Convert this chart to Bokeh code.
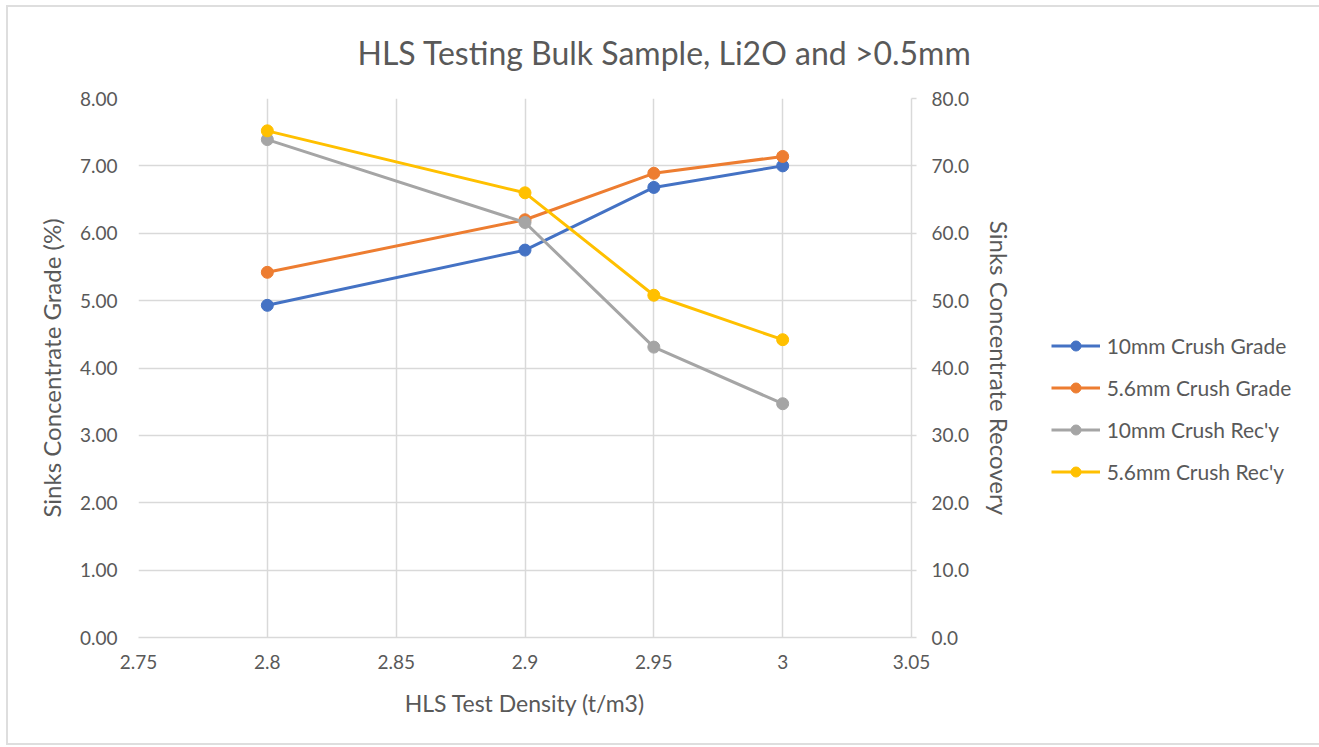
from bokeh.plotting import figure
from bokeh.models import (Range1d, LinearAxis, FixedTicker, Legend, LegendItem, Title)
from bokeh.embed import file_html
from bokeh.resources import INLINE

# ---- data ----
density = [2.8, 2.9, 2.95, 3.0]
grade_10mm = [4.93, 5.75, 6.68, 7.00]
grade_56mm = [5.42, 6.20, 6.89, 7.14]
recy_10mm = [73.9, 61.6, 43.1, 34.7]
recy_56mm = [75.2, 66.0, 50.8, 44.2]

series_names = ["10mm Crush Grade", "5.6mm Crush Grade", "10mm Crush Rec'y", "5.6mm Crush Rec'y"]
series_colors = ["#4472C4", "#ED7D31", "#A5A5A5", "#FFC000"]

x_ticks = [2.75, 2.8, 2.85, 2.9, 2.95, 3.0, 3.05]
x_tick_labels = ["2.75", "2.8", "2.85", "2.9", "2.95", "3", "3.05"]
left_ticks = [0, 1, 2, 3, 4, 5, 6, 7, 8]
left_tick_labels = ["0.00", "1.00", "2.00", "3.00", "4.00", "5.00", "6.00", "7.00", "8.00"]
right_ticks = [0, 10, 20, 30, 40, 50, 60, 70, 80]
right_tick_labels = ["0.0", "10.0", "20.0", "30.0", "40.0", "50.0", "60.0", "70.0", "80.0"]

FONT = "Lato"
TXT = "#595959"
GRID = "#D9D9D9"

p = figure(frame_width=773, frame_height=539, output_backend="svg", toolbar_location=None,
           x_range=Range1d(2.75, 3.05), y_range=Range1d(0, 8),
           min_border_left=130, min_border_right=0, min_border_top=91, min_border_bottom=106)
p.styles = {"border": "2px solid #DEDEDE", "margin-left": "6px", "margin-top": "5px"}
p.extra_y_ranges = {"rec": Range1d(0, 80)}
p.outline_line_color = None
p.background_fill_color = "white"
p.border_fill_color = "white"

t = Title(text="HLS Testing Bulk Sample, Li2O and >0.5mm", align="left",
          vertical_align="top",
          text_font=FONT, text_font_size="32px", text_font_style="normal",
          text_color=TXT, offset=219, standoff=49)
p.add_layout(t, "above")

# grids
p.xgrid.ticker = FixedTicker(ticks=x_ticks)
p.ygrid.ticker = FixedTicker(ticks=left_ticks)
p.xgrid.grid_line_color = GRID
p.ygrid.grid_line_color = GRID
p.xgrid.grid_line_width = 1.5
p.ygrid.grid_line_width = 1.5

# x axis
xa = p.xaxis[0]
xa.ticker = FixedTicker(ticks=x_ticks)
xa.major_label_overrides = {k: v for k, v in zip(x_ticks, x_tick_labels)}
xa.axis_label = "HLS Test Density (t/m3)"
xa.axis_line_color = GRID
xa.axis_line_width = 1.5
xa.major_tick_line_color = None
xa.minor_tick_line_color = None
xa.major_label_standoff = 11
xa.axis_label_standoff = 17

# left axis
ya = p.yaxis[0]
ya.ticker = FixedTicker(ticks=left_ticks)
ya.major_label_overrides = {k: v for k, v in zip(left_ticks, left_tick_labels)}
ya.axis_label = "Sinks Concentrate Grade (%)"
ya.axis_line_color = None
ya.major_tick_line_color = None
ya.minor_tick_line_color = None
ya.major_label_standoff = 15
ya.axis_label_standoff = 11

# right axis
ra = LinearAxis(y_range_name="rec", ticker=FixedTicker(ticks=right_ticks))
ra.major_label_overrides = {k: v for k, v in zip(right_ticks, right_tick_labels)}
ra.axis_label = "Sinks Concentrate Recovery"
ra.axis_line_color = GRID
ra.axis_line_width = 1.5
ra.major_tick_line_color = GRID
ra.major_tick_line_width = 1.5
ra.major_tick_out = 5
ra.major_tick_in = 0
ra.minor_tick_line_color = None
ra.major_label_standoff = 15
ra.axis_label_standoff = 13
p.add_layout(ra, "right")

for ax in (xa, ya, ra):
    ax.major_label_text_font = FONT
    ax.major_label_text_font_size = "19px"
    ax.major_label_text_color = TXT
    ax.axis_label_text_font = FONT
    ax.axis_label_text_font_style = "normal"
    ax.axis_label_text_color = TXT
xa.axis_label_text_font_size = "23px"
ya.axis_label_text_font_size = "24px"
ra.axis_label_text_font_size = "24px"

items = []
ys = [grade_10mm, grade_56mm, recy_10mm, recy_56mm]
ranges = ["default", "default", "rec", "rec"]
for name, col, yv, rn in zip(series_names, series_colors, ys, ranges):
    lr = p.line(density, yv, line_color=col, line_width=3, y_range_name=rn)
    sr = p.scatter(density, yv, marker="circle", size=12, fill_color=col, line_color=col,
                   y_range_name=rn)
    items.append(LegendItem(label=name, renderers=[lr, sr]))

legend = Legend(items=items, location=(-194, 153), orientation="vertical",
                label_text_font=FONT, label_text_font_size="21px", label_text_color=TXT,
                glyph_width=49, glyph_height=25, label_height=25, spacing=17,
                label_standoff=7, padding=0, margin=0,
                border_line_color=None, background_fill_alpha=0)
p.add_layout(legend, "right")

open("out.html", "w").write(file_html(p, INLINE))
